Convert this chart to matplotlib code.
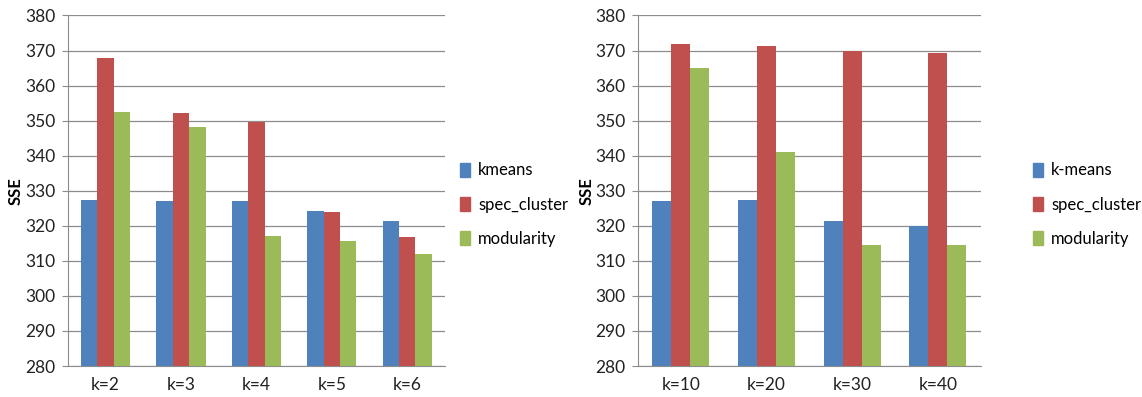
import numpy as np
import matplotlib.pyplot as plt
from matplotlib.patches import Patch

# ─── Data ─────────────────────────────────────────────────────
left_cats   = ["k=2", "k=3", "k=4", "k=5", "k=6"]
left_kmeans = [327.4, 327.0, 327.0, 324.3, 321.3]
left_spec   = [367.8, 352.1, 349.7, 324.0, 316.7]
left_mod    = [352.6, 348.1, 317.1, 315.6, 312.1]

right_cats   = ["k=10", "k=20", "k=30", "k=40"]
right_kmeans = [327.0, 327.4, 321.3, 320.0]
right_spec   = [372.0, 371.3, 369.9, 369.4]
right_mod    = [365.1, 341.1, 314.4, 314.4]

left_names  = ["kmeans", "spec_cluster", "modularity"]
right_names = ["k-means", "spec_cluster", "modularity"]
colors = ["#4F81BD", "#C0504D", "#9BBB59"]

plt.rcParams["font.family"] = ["Lato", "DejaVu Sans"]

fig = plt.figure(figsize=(11.42, 3.97), dpi=100)
ax1 = fig.add_axes([0.0595, 0.078, 0.330, 0.883])
ax2 = fig.add_axes([0.5587, 0.078, 0.300, 0.883])


def draw(ax, cats, series, names, bw, leg_x, lab_x):
    x = np.arange(len(cats))
    for i, (vals, c) in enumerate(zip(series, colors)):
        ax.bar(x + (i - 1) * bw, np.array(vals) - 280, bw, bottom=280,
               color=c, zorder=3)
    ax.set_xlim(-0.5, len(cats) - 0.5)
    ax.set_ylim(280, 380)
    ax.set_yticks(range(280, 381, 10))
    ax.set_xticks(x)
    ax.set_xticklabels(cats)
    ax.grid(axis="y", color="#8c8c8c", linewidth=0.9, zorder=0)
    for s in ("top", "right"):
        ax.spines[s].set_visible(False)
    for s in ("left", "bottom"):
        ax.spines[s].set_color("#8c8c8c")
    ax.tick_params(axis="y", length=4, color="#8c8c8c", labelsize=12.5,
                   labelcolor="#222222", pad=5)
    ax.tick_params(axis="x", length=0, labelsize=12.5, labelcolor="#222222",
                   pad=8)
    ax.set_ylabel("SSE", fontsize=12, fontweight="bold")
    ax.yaxis.set_label_coords(lab_x, 0.5)
    handles = [Patch(color=c, label=n) for c, n in zip(colors, names)]
    ax.legend(handles=handles, loc="center left", bbox_to_anchor=(leg_x, 0.46),
              frameon=False, fontsize=12, handlelength=0.6,
              handleheight=0.9, handletextpad=0.5, labelspacing=1.1)


draw(ax1, left_cats, [left_kmeans, left_spec, left_mod], left_names,
     0.217, 1.0, -0.117)
draw(ax2, right_cats, [right_kmeans, right_spec, right_mod], right_names,
     0.222, 1.108, -0.128)

fig.savefig("out.png", dpi=100)
plt.close(fig)
